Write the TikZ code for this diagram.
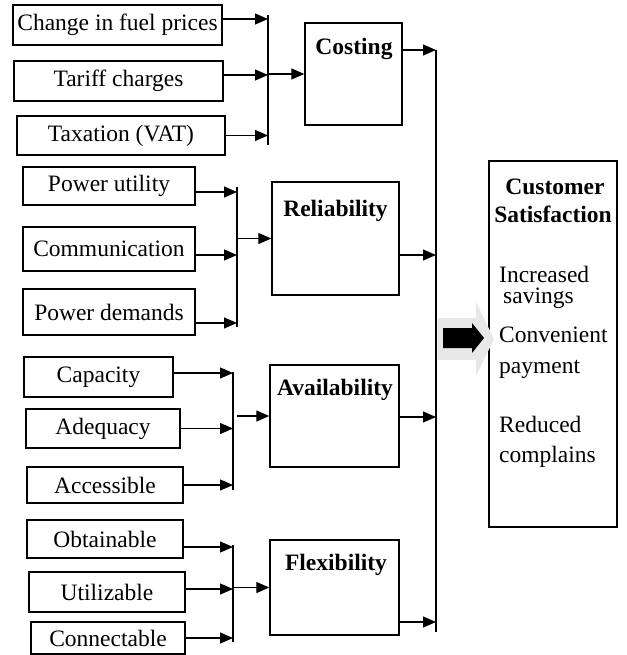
\documentclass[tikz,border=0pt]{standalone}
\usepackage{fontspec}
\setmainfont{Liberation Serif}
\usetikzlibrary{arrows.meta,calc}
\begin{document}
\begin{tikzpicture}[x=1pt,y=-1pt,
  txt/.style={font=\fontsize{23.5}{27}\selectfont},
  inbox/.style={draw,line width=1.4pt,inner sep=0pt,txt},
  midbox/.style={draw,line width=1.4pt,inner sep=0pt},
  lbl/.style={font=\fontsize{23.5}{27}\selectfont\bfseries,inner sep=0pt,anchor=base},
  itm/.style={txt,inner sep=0pt,anchor=base west},
  arr/.style={line width=1.2pt,-{Triangle[length=13pt,width=11pt]}},
  bus/.style={line width=1.3pt}
]
\useasboundingbox (0,0) rectangle (626,655);

% input boxes
\node[inbox,minimum width=209,minimum height=40] (b1) at (117.5,25) {Change in fuel prices};
\node[inbox,minimum width=209,minimum height=40] (b2) at (118.5,81) {Tariff charges};
\node[inbox,minimum width=208,minimum height=39] (b3) at (121,135.5) {Taxation (VAT)};
\node[inbox,minimum width=172,minimum height=38] (p1) at (109,186) {Power utility};
\node[inbox,minimum width=172,minimum height=44] (p2) at (109,249) {Communication};
\node[inbox,minimum width=172,minimum height=46] (p3) at (109,312) {Power demands};
\node[inbox,minimum width=149,minimum height=40] (c1) at (98.5,377) {Capacity};
\node[inbox,minimum width=154,minimum height=39] (c2) at (103,428.5) {Adequacy};
\node[inbox,minimum width=156,minimum height=36] (c3) at (105,485) {Accessible};
\node[inbox,minimum width=156,minimum height=38] (f1) at (105,539) {Obtainable};
\node[inbox,minimum width=156,minimum height=40] (f2) at (107,592) {Utilizable};
\node[inbox,minimum width=154,minimum height=32] (f3) at (108,638) {Connectable};

% middle boxes
\node[midbox,minimum width=97,minimum height=102] (cost) at (353.5,74) {};
\node[midbox,minimum width=127,minimum height=113] (rel) at (335.5,238.5) {};
\node[midbox,minimum width=129,minimum height=102] (avail) at (334.5,416) {};
\node[midbox,minimum width=129,minimum height=95] (flex) at (334.5,587.5) {};
\node[lbl] (costl) at (354,55) {Costing};
\node[lbl] (rell) at (335.5,216) {Reliability};
\node[lbl] (availl) at (335,395) {Availability};
\node[lbl] (flexl) at (336,570) {Flexibility};

% customer box
\node[midbox,minimum width=128,minimum height=366] (cust) at (553,344) {};
\node[lbl] (custl1) at (555,194) {Customer};
\node[lbl] (custl2) at (553,222) {Satisfaction};
\node[itm] (i1) at (499,282) {Increased};
\node[itm] (i2) at (503,303) {savings};
\node[itm] (i3) at (499,342) {Convenient};
\node[itm] (i4) at (499,373) {payment};
\node[itm] (i5) at (499,432) {Reduced};
\node[itm] (i6) at (499,462) {complains};

% bus lines
\coordinate (busA) at (268,15);  \coordinate (busAe) at (268,145);
\coordinate (busB) at (237,187); \coordinate (busBe) at (237,327);
\coordinate (busC) at (233,372); \coordinate (busCe) at (233,490);
\coordinate (busD) at (233,545); \coordinate (busDe) at (233,642);
\coordinate (main) at (436,50);  \coordinate (maine) at (436,632);
\draw[bus] (busA) -- (busAe);
\draw[bus] (busB) -- (busBe);
\draw[bus] (busC) -- (busCe);
\draw[bus] (busD) -- (busDe);
\draw[bus] (main) -- (maine);

% inputs to buses
\draw[arr] ([yshift=6pt]b1.east) -- ([yshift=6pt]b1.east -| busA);
\draw[arr] ([yshift=6pt]b2.east) -- ([yshift=6pt]b2.east -| busA);
\draw[arr] (b3.east) -- (b3.east -| busA);
\draw[arr] ([yshift=-6pt]p1.east) -- ([yshift=-6pt]p1.east -| busB);
\draw[arr] ([yshift=-6pt]p2.east) -- ([yshift=-6pt]p2.east -| busB);
\draw[arr] ([yshift=-11pt]p3.east) -- ([yshift=-11pt]p3.east -| busB);
\draw[arr] ([yshift=4pt]c1.east) -- ([yshift=4pt]c1.east -| busC);
\draw[arr] (c2.east) -- (c2.east -| busC);
\draw[arr] (c3.east) -- (c3.east -| busC);
\draw[arr] ([yshift=-8pt]f1.east) -- ([yshift=-8pt]f1.east -| busD);
\draw[arr] ([yshift=3pt]f2.east) -- ([yshift=3pt]f2.east -| busD);
\draw[arr] (f3.east) -- (f3.east -| busD);

% buses to middle boxes
\draw[arr] (busA |- cost.west) -- (cost.west);
\draw[arr] (busB |- rel.west) -- (rel.west);
\draw[arr] ([xshift=4pt]busC |- avail.west) -- (avail.west);
\draw[arr] (busD |- flex.west) -- (flex.west);

% middle boxes to main bus
\draw[arr] (cost.east |- 0,50) -- (main |- 0,50);
\draw[arr] ([yshift=-16.5pt]rel.east) -- ([yshift=-16.5pt]rel.east -| main);
\draw[arr] ([yshift=-1pt]avail.east) -- ([yshift=-1pt]avail.east -| main);
\draw[arr] ([yshift=-34.5pt]flex.east) -- ([yshift=-34.5pt]flex.east -| main);

% block arrow to customer box
\fill[black!9] (438,318) -- (476,318) -- (476,302) -- (494,339) -- (476,376) -- (476,360) -- (438,360) -- cycle;
\fill[black] (443,328) -- (472,328) -- (472,323) -- (484,338) -- (472,353) -- (472,348) -- (443,348) -- cycle;
\end{tikzpicture}
\end{document}
